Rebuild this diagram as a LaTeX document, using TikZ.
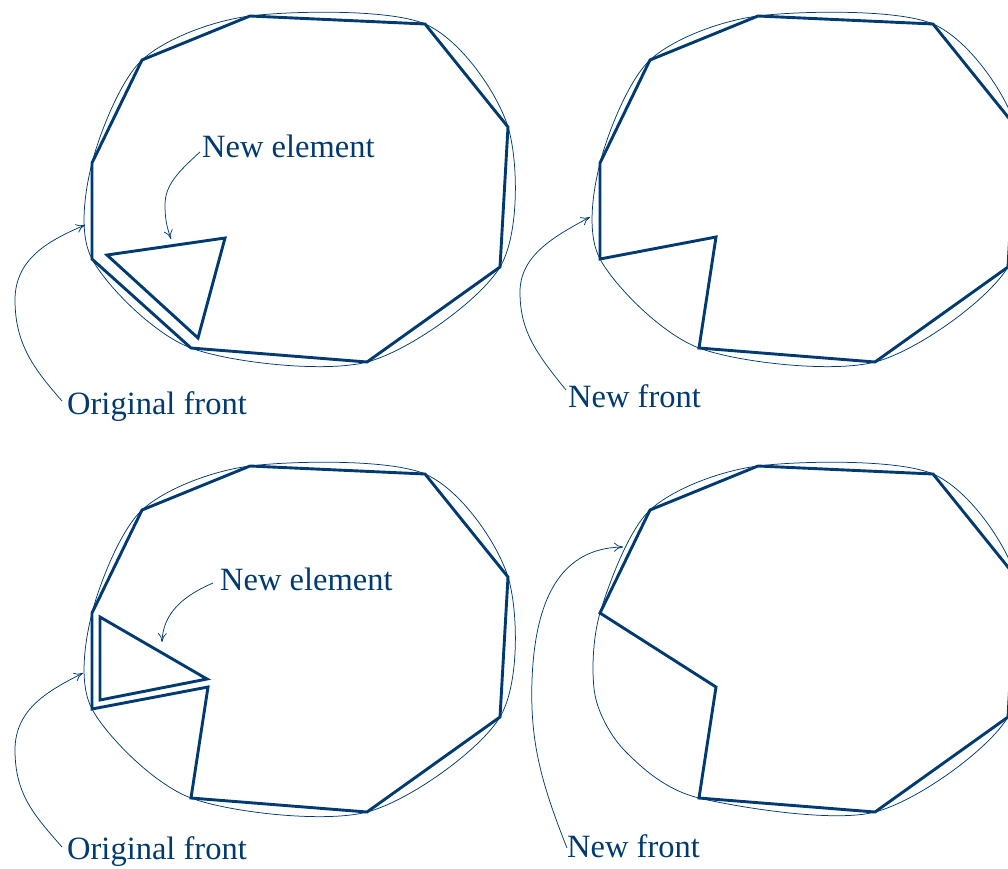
\documentclass[tikz,border=0pt]{standalone}
\usepackage{fontspec}
\setmainfont{Liberation Serif}
\usetikzlibrary{arrows.meta}
\definecolor{fc}{RGB}{0,58,112}
\begin{document}
\begin{tikzpicture}[x=1pt,y=-1pt,
  front/.style={draw=fc,line width=2.9pt,line join=miter},
  smoothfront/.style={draw=fc,line width=0.75pt},
  lbl/.style={text=fc,inner sep=0pt,anchor=base west,font=\fontsize{32.5}{38}\selectfont},
  arr/.style={draw=fc,line width=0.75pt,-{To[length=9pt,width=9pt]}}]
\useasboundingbox (0,0) rectangle (1008,868);
\clip (0,0) rectangle (1008,868);
% smooth original fronts (panels 1,2,3)
\foreach \dx/\dy in {0/0,508/0,0/450}{
  \begin{scope}[shift={(\dx,\dy)}]
    \draw[smoothfront] plot[smooth cycle] coordinates {(142,60) (250,16) (425,24) (508,127) (500,267) (367,362) (191,348) (92,259) (92,163)};
  \end{scope}
}
% panel 4 smooth front
\begin{scope}[shift={(508,450)}]
  \draw[smoothfront] plot[smooth cycle] coordinates {(142,60) (250,16) (425,24) (508,127) (500,267) (367,362) (191,348) (118,302) (87,245) (92,163)};
\end{scope}
% panel 1
\draw[front] (142,60)--(250,16)--(425,24)--(508,127)--(500,267)--(367,362)--(191,348)--(92,259)--(92,163)--cycle;
\draw[front] (107,255)--(225,238)--(198,338)--cycle;
% panel 2
\begin{scope}[shift={(508,0)}]
  \draw[front] (92,163)--(142,60)--(250,16)--(425,24)--(508,127)--(500,267)--(367,362)--(191,348)--(208,237)--(92,259)--cycle;
\end{scope}
% panel 3
\begin{scope}[shift={(0,450)}]
  \draw[front] (92,163)--(142,60)--(250,16)--(425,24)--(508,127)--(500,267)--(367,362)--(191,348)--(208,237)--(92,259)--cycle;
  \draw[front] (100,167)--(207,229)--(100,250)--cycle;
\end{scope}
% panel 4
\begin{scope}[shift={(508,450)}]
  \draw[front] (92,163)--(142,60)--(250,16)--(425,24)--(508,127)--(500,267)--(367,362)--(191,348)--(208,237)--cycle;
\end{scope}
% labels
\node[lbl] (ne1) at (202,157) {New element};
\node[lbl] (of1) at (67,414) {Original front};
\node[lbl] (nf2) at (568,407) {New front};
\node[lbl] (ne3) at (220,590) {New element};
\node[lbl] (of3) at (67,859) {Original front};
\node[lbl] (nf4) at (567,857) {New front};
% arrow ends
\coordinate (ne1s) at (200,152); \coordinate (ne1t) at (171,239);
\coordinate (of1s) at (62,401);  \coordinate (of1t) at (85,225);
\coordinate (nf2s) at (566,390); \coordinate (nf2t) at (590,217);
\coordinate (ne3s) at (213,583); \coordinate (ne3t) at (162,642);
\coordinate (of3s) at (62,847);  \coordinate (of3t) at (83,673);
\coordinate (nf4s) at (567,848); \coordinate (nf4t) at (623,547);
% arrows
\draw[arr] (ne1s) .. controls (178,172) and (165,185) .. (165,205) .. controls (165,222) and (168,230) .. (ne1t);
\draw[arr] (of1s) .. controls (35,370) and (15,345) .. (15,300) .. controls (15,258) and (50,240) .. (of1t);
\draw[arr] (nf2s) .. controls (535,352) and (520,330) .. (520,292) .. controls (520,255) and (555,236) .. (nf2t);
\draw[arr] (ne3s) .. controls (185,595) and (163,612) .. (ne3t);
\draw[arr] (of3s) .. controls (35,816) and (15,795) .. (15,750) .. controls (15,708) and (50,690) .. (of3t);
\draw[arr] (nf4s) .. controls (540,780) and (530,740) .. (532,680) .. controls (535,600) and (560,548) .. (nf4t);
\end{tikzpicture}
\end{document}
